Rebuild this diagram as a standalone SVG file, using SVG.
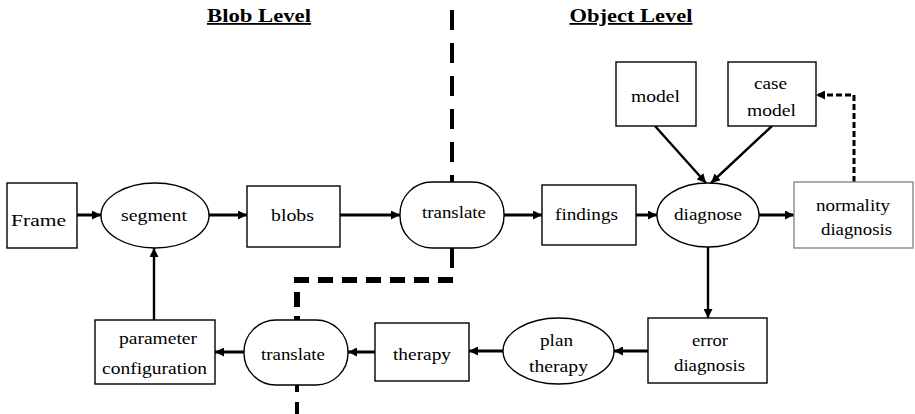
<svg xmlns="http://www.w3.org/2000/svg" width="915" height="414" viewBox="0 0 915 414">
<style>
  .box{fill:#fff;stroke:#000;stroke-width:1.4}
  .gbox{fill:#fff;stroke:#888;stroke-width:1.4}
  text{font-family:"Liberation Serif","DejaVu Serif","Times New Roman",serif}
  .lbl{font-size:17px;fill:#000;text-anchor:middle}
  .ttl{font-size:18px;font-weight:bold;fill:#000;text-anchor:middle;text-decoration:underline}
  .con{fill:none;stroke:#000;stroke-width:3}
  .con2{fill:none;stroke:#000;stroke-width:2.4}
  .dash1{fill:none;stroke:#000;stroke-width:4}
  .fb{fill:none;stroke:#000;stroke-width:3;stroke-dasharray:6 3}
</style>
<defs>
  <marker id="ah" viewBox="0 0 10 10" refX="10" refY="5" markerWidth="10" markerHeight="9" markerUnits="userSpaceOnUse" orient="auto">
    <path d="M0,0 L10,5 L0,10 z" fill="#000"/>
  </marker>
</defs>
<rect width="915" height="414" fill="#fff"/>

<g id="titles" font-family="Liberation Serif, serif">
  <text class="ttl" x="259" y="22" textLength="104" lengthAdjust="spacingAndGlyphs">Blob Level</text>
  <text class="ttl" x="631" y="22" textLength="123" lengthAdjust="spacingAndGlyphs">Object Level</text>
</g>

<g id="separator">
  <path class="dash1" d="M452,10 V183" stroke-dasharray="20 13"/>
  <path class="dash1" d="M452,248 V268"/>
  <path d="M453,280 H297 V320" fill="none" stroke="#000" stroke-width="6" stroke-dasharray="15 9"/>
  <path class="dash1" d="M297,385 V392 M297,402 V414"/>
</g>

<g id="connectors">
  <path class="con" d="M77,215 H101" marker-end="url(#ah)"/>
  <path class="con" d="M209,215 H247" marker-end="url(#ah)"/>
  <path class="con" d="M340,215 H400" marker-end="url(#ah)"/>
  <path class="con" d="M504,215 H542" marker-end="url(#ah)"/>
  <path class="con" d="M636,215 H657" marker-end="url(#ah)"/>
  <path class="con" d="M759,215 H794" marker-end="url(#ah)"/>
  <path class="con2" d="M655,126 L706,183" marker-end="url(#ah)"/>
  <path class="con2" d="M772,126 L711,183" marker-end="url(#ah)"/>
  <path class="con2" d="M708,247 V318" marker-end="url(#ah)"/>
  <path class="con" d="M648,351 H614" marker-end="url(#ah)"/>
  <path class="con" d="M503,351 H469" marker-end="url(#ah)"/>
  <path class="con" d="M375,352 H348" marker-end="url(#ah)"/>
  <path class="con" d="M244,352 H215" marker-end="url(#ah)"/>
  <path class="con2" d="M154,320 V248" marker-end="url(#ah)"/>
  <path class="fb" d="M854,182 V95 H816" marker-end="url(#ah)"/>
</g>

<g id="frame">
  <rect class="box" x="7" y="183" width="70" height="65"/>
  <text class="lbl" x="38.5" y="226" textLength="55" lengthAdjust="spacingAndGlyphs">Frame</text>
</g>
<g id="segment">
  <ellipse class="box" cx="155" cy="215.5" rx="54" ry="32.5"/>
  <text class="lbl" x="154" y="221" textLength="66" lengthAdjust="spacingAndGlyphs">segment</text>
</g>
<g id="blobs">
  <rect class="box" x="247" y="186" width="93" height="61"/>
  <text class="lbl" x="292.5" y="221" textLength="43" lengthAdjust="spacingAndGlyphs">blobs</text>
</g>
<g id="translate1">
  <rect class="box" x="400" y="182" width="104" height="66" rx="32" ry="32"/>
  <text class="lbl" x="454" y="218" textLength="64" lengthAdjust="spacingAndGlyphs">translate</text>
</g>
<g id="findings">
  <rect class="box" x="542" y="185" width="94" height="60"/>
  <text class="lbl" x="586.5" y="220" textLength="63" lengthAdjust="spacingAndGlyphs">findings</text>
</g>
<g id="diagnose">
  <ellipse class="box" cx="708" cy="215" rx="51" ry="32"/>
  <text class="lbl" x="708" y="220" textLength="68" lengthAdjust="spacingAndGlyphs">diagnose</text>
</g>
<g id="normality">
  <rect class="gbox" x="794" y="182" width="119" height="66"/>
  <text class="lbl" x="853" y="211" textLength="74" lengthAdjust="spacingAndGlyphs">normality</text>
  <text class="lbl" x="856.5" y="235" textLength="71" lengthAdjust="spacingAndGlyphs">diagnosis</text>
</g>
<g id="model">
  <rect class="box" x="616" y="62" width="80" height="64"/>
  <text class="lbl" x="655.5" y="102" textLength="49" lengthAdjust="spacingAndGlyphs">model</text>
</g>
<g id="casemodel">
  <rect class="box" x="728" y="62" width="88" height="64"/>
  <text class="lbl" x="770.5" y="89" textLength="33" lengthAdjust="spacingAndGlyphs">case</text>
  <text class="lbl" x="771.5" y="116" textLength="49" lengthAdjust="spacingAndGlyphs">model</text>
</g>
<g id="errordiagnosis">
  <rect class="box" x="648" y="318" width="119" height="65"/>
  <text class="lbl" x="710" y="346" textLength="36" lengthAdjust="spacingAndGlyphs">error</text>
  <text class="lbl" x="709.5" y="371" textLength="71" lengthAdjust="spacingAndGlyphs">diagnosis</text>
</g>
<g id="plantherapy">
  <ellipse class="box" cx="558.5" cy="351" rx="55.5" ry="33"/>
  <text class="lbl" x="556.5" y="346" textLength="33" lengthAdjust="spacingAndGlyphs">plan</text>
  <text class="lbl" x="558.5" y="372" textLength="59" lengthAdjust="spacingAndGlyphs">therapy</text>
</g>
<g id="therapy">
  <rect class="box" x="375" y="323" width="94" height="58"/>
  <text class="lbl" x="422" y="360" textLength="58" lengthAdjust="spacingAndGlyphs">therapy</text>
</g>
<g id="translate2">
  <rect class="box" x="244" y="320" width="104" height="65" rx="32" ry="32"/>
  <text class="lbl" x="293" y="360" textLength="64" lengthAdjust="spacingAndGlyphs">translate</text>
</g>
<g id="paramconfig">
  <rect class="box" x="95" y="320" width="120" height="64"/>
  <text class="lbl" x="158" y="344" textLength="78" lengthAdjust="spacingAndGlyphs">parameter</text>
  <text class="lbl" x="154.5" y="374" textLength="105" lengthAdjust="spacingAndGlyphs">configuration</text>
</g>
</svg>
